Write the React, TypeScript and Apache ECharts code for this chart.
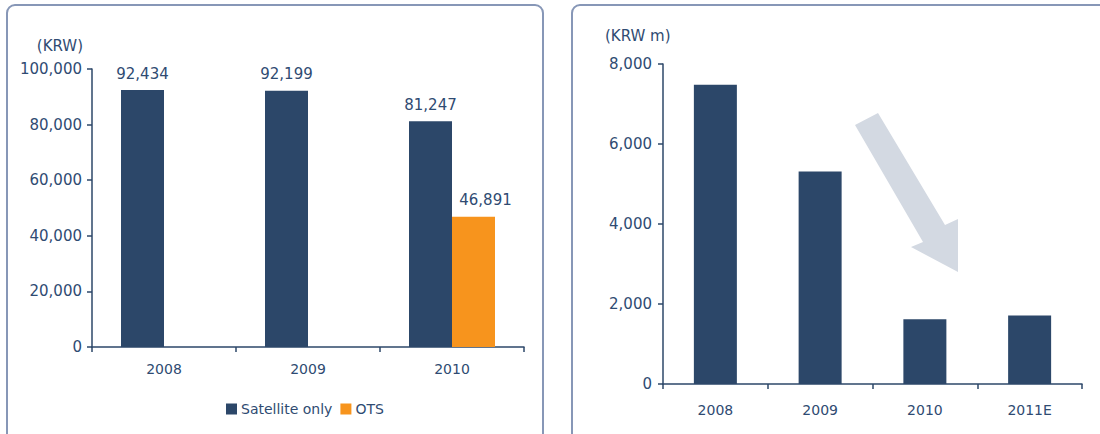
import { useEffect, useRef } from 'react';
import * as echarts from 'echarts';

const leftCategories = ['2008', '2009', '2010'];
const satelliteOnly = [92434, 92199, 81247];
const otsValues = [null, null, 46891];
const leftUnit = '(KRW)';

const rightCategories = ['2008', '2009', '2010', '2011E'];
const rightValues = [7480, 5310, 1620, 1710];
const rightUnit = '(KRW m)';

const NAVY = '#2c4769';
const ORANGE = '#f7941d';
const TEXT = '#2f4b72';
const FONT = '"DejaVu Sans", Verdana, sans-serif';

const fmt = (v: number) => Number(v).toLocaleString('en-US');

export default function App() {
  const ref = useRef<HTMLDivElement>(null);
  useEffect(() => {
    if (!ref.current) return;
    const chart = echarts.init(ref.current, null, { renderer: 'svg' });
    const axisLine = { show: true, lineStyle: { color: NAVY, width: 1.5 } };
    chart.setOption({
      animation: false,
      backgroundColor: '#ffffff',
      textStyle: { fontFamily: FONT },
      grid: [
        { left: 92, top: 69, width: 432, height: 278 },
        { left: 663, top: 64, width: 419, height: 320 },
      ],
      legend: {
        left: 221,
        top: 397,
        itemWidth: 11,
        itemHeight: 11,
        itemGap: 8,
        icon: 'rect',
        textStyle: { color: TEXT, fontSize: 14, fontFamily: FONT, padding: [0, 0, 0, -1] },
        data: ['Satellite only', 'OTS'],
      },
      xAxis: [
        {
          type: 'category',
          gridIndex: 0,
          data: leftCategories,
          axisLine,
          axisTick: { show: true, length: 5, lineStyle: { color: NAVY, width: 1.5 } },
          axisLabel: { color: TEXT, fontSize: 14, fontFamily: FONT, margin: 15 },
        },
        {
          type: 'category',
          gridIndex: 1,
          data: rightCategories,
          axisLine,
          axisTick: { show: true, length: 5, lineStyle: { color: NAVY, width: 1.5 } },
          axisLabel: { color: TEXT, fontSize: 14, fontFamily: FONT, margin: 19 },
        },
      ],
      yAxis: [
        {
          type: 'value',
          gridIndex: 0,
          min: 0,
          max: 100000,
          interval: 20000,
          axisLine,
          axisTick: { show: true, length: 5, lineStyle: { color: NAVY, width: 1.5 } },
          splitLine: { show: false },
          axisLabel: { color: TEXT, fontSize: 15, fontFamily: FONT, margin: 10, formatter: fmt },
        },
        {
          type: 'value',
          gridIndex: 1,
          min: 0,
          max: 8000,
          interval: 2000,
          axisLine,
          axisTick: { show: true, length: 5, lineStyle: { color: NAVY, width: 1.5 } },
          splitLine: { show: false },
          axisLabel: { color: TEXT, fontSize: 15, fontFamily: FONT, margin: 11, formatter: fmt },
        },
      ],
      series: [
        {
          name: 'Satellite only',
          type: 'bar',
          xAxisIndex: 0,
          yAxisIndex: 0,
          data: satelliteOnly,
          barWidth: 43,
          barGap: '0%',
          itemStyle: { color: NAVY },
          label: {
            show: true,
            position: 'top',
            distance: 9,
            color: TEXT,
            fontSize: 15,
            fontFamily: FONT,
            formatter: (p: any) => fmt(p.value),
          },
        },
        {
          name: 'OTS',
          type: 'bar',
          xAxisIndex: 0,
          yAxisIndex: 0,
          data: otsValues,
          barWidth: 43,
          barGap: '0%',
          itemStyle: { color: ORANGE },
          label: {
            show: true,
            position: 'top',
            distance: 9,
            offset: [12, 0],
            color: TEXT,
            fontSize: 15,
            fontFamily: FONT,
            formatter: (p: any) => fmt(p.value),
          },
        },
        {
          name: 'Revenue',
          type: 'bar',
          xAxisIndex: 1,
          yAxisIndex: 1,
          data: rightValues,
          barWidth: 43,
          itemStyle: { color: NAVY },
        },
      ],
      graphic: [
        {
          type: 'rect',
          z: -1,
          shape: { x: 7, y: 5, width: 536, height: 460, r: 8 },
          style: { fill: 'none', stroke: '#8797b7', lineWidth: 2 },
        },
        {
          type: 'rect',
          z: -1,
          shape: { x: 572, y: 5, width: 560, height: 460, r: 8 },
          style: { fill: 'none', stroke: '#8797b7', lineWidth: 2 },
        },
        {
          type: 'text',
          x: 83,
          y: 46,
          style: {
            text: leftUnit,
            fill: TEXT,
            font: `15px ${FONT}`,
            textAlign: 'right',
            textVerticalAlign: 'middle',
          },
        },
        {
          type: 'text',
          x: 605,
          y: 36,
          style: {
            text: rightUnit,
            fill: TEXT,
            font: `15px ${FONT}`,
            textAlign: 'left',
            textVerticalAlign: 'middle',
          },
        },
        {
          type: 'polygon',
          shape: {
            points: [
              [855, 125],
              [878, 113],
              [945, 225],
              [958, 219],
              [958, 272],
              [911, 247],
              [923, 242],
            ],
          },
          style: { fill: '#d3d9e2' },
        },
      ],
    });
    return () => chart.dispose();
  }, []);
  return (
    <div
      ref={ref}
      style={{ position: 'absolute', left: 0, top: 0, width: 1100, height: 434, background: '#fff' }}
    />
  );
}
